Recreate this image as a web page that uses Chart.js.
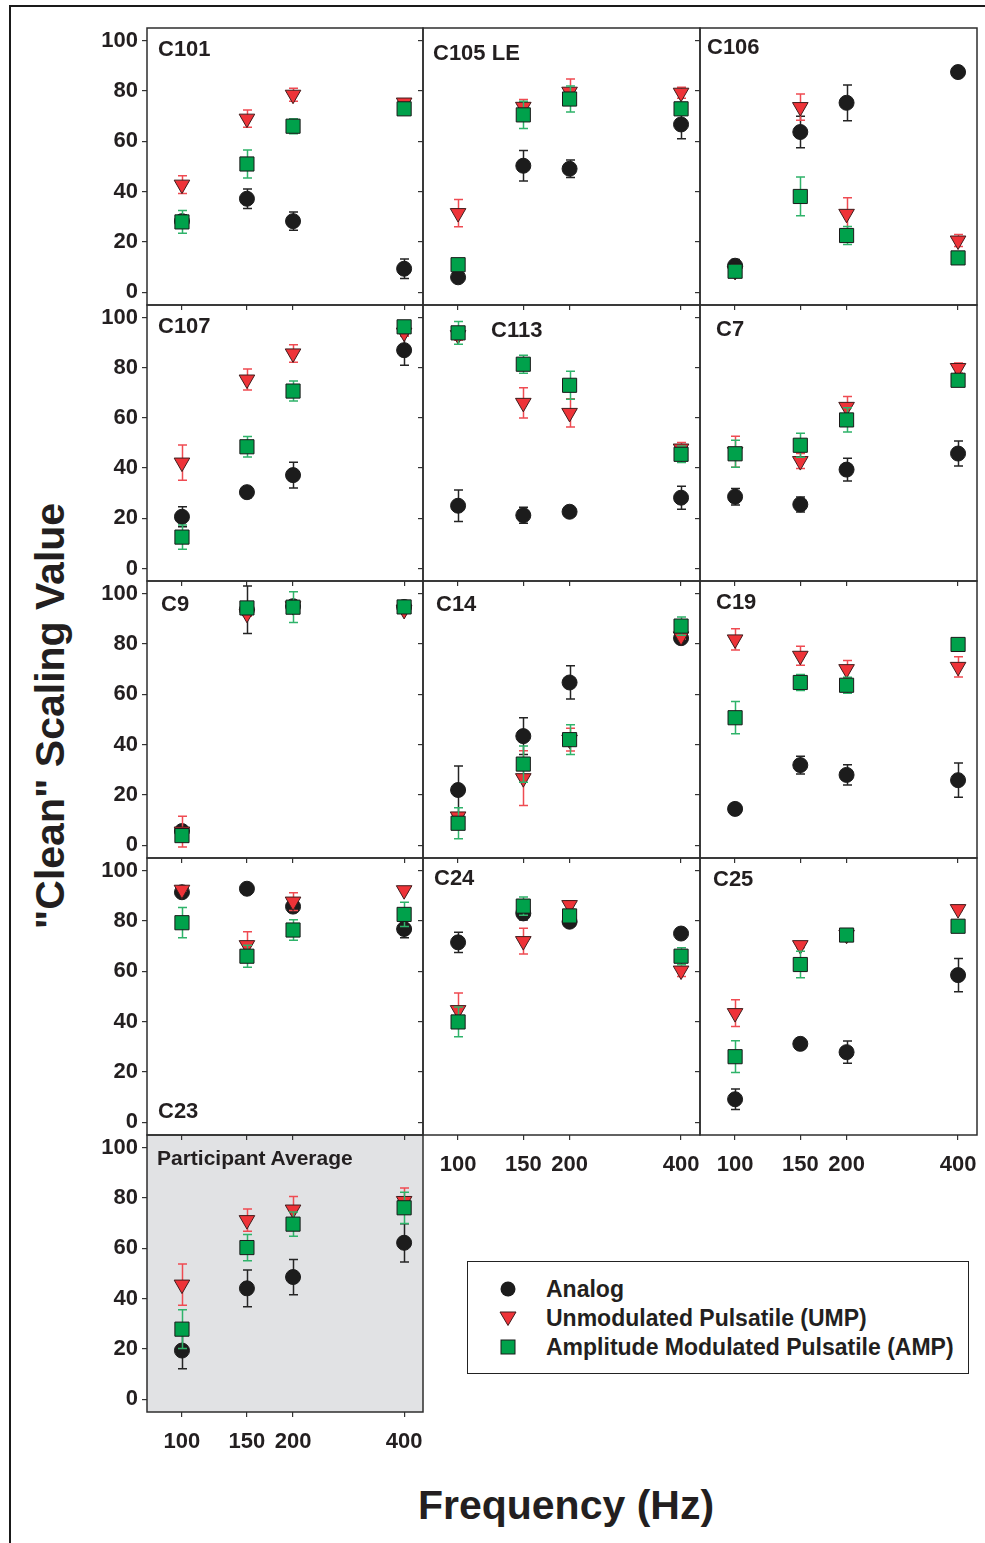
<!DOCTYPE html>
<html>
<head>
<meta charset="utf-8">
<title>"Clean" scaling value by stimulation frequency</title>
<script src="https://cdn.jsdelivr.net/npm/chart.js@4.4.1/dist/chart.umd.min.js"></script>
<style>
  html, body { margin: 0; padding: 0; background: #fff; }
  body {
    position: relative; width: 985px; height: 1543px; overflow: hidden;
    font-family: "Liberation Sans", Arial, Helvetica, sans-serif; color: #231f20;
  }
  #frame {
    position: absolute; left: 9px; top: 5px; right: 0; bottom: 0;
    border-left: 2px solid #1a1a1a; border-top: 2px solid #1a1a1a;
  }
  .panel { position: absolute; }
  .tag {
    position: absolute; z-index: 5; white-space: nowrap;
    font-weight: bold; font-size: 22px; line-height: 22px;
  }
  #ytitle {
    position: absolute; left: 50px; top: 716px; white-space: nowrap;
    font-weight: bold; font-size: 41px; line-height: 41px;
    transform: translate(-50%, -50%) rotate(-90deg);
  }
  #xtitle {
    position: absolute; left: 566px; top: 1485px; white-space: nowrap;
    font-weight: bold; font-size: 41px; line-height: 41px;
    transform: translateX(-50%);
  }
  #legend {
    position: absolute; left: 467px; top: 1261px; width: 502px; height: 113px;
    border: 1.5px solid #222; box-sizing: border-box; background: #fff; z-index: 6;
  }
  .item { position: absolute; left: 0; right: 0; height: 26px; }
  .item svg { position: absolute; left: 30px; top: 4px; }
  .item span {
    position: absolute; left: 78px; top: 0; line-height: 26px;
    font-weight: bold; font-size: 23px; white-space: nowrap;
  }
</style>
</head>
<body>
<div id="frame"></div>
<div id="ytitle">"Clean" Scaling Value</div>
<div id="xtitle">Frequency (Hz)</div>
<div id="legend"></div>

<script>
const FREQS = [100, 150, 200, 400];
const Y_TICKS = [0, 20, 40, 60, 80, 100];
const SERIES = ['Analog', 'Unmodulated Pulsatile (UMP)', 'Amplitude Modulated Pulsatile (AMP)'];

// mean scaling value per frequency, rows in SERIES order; *_ERR = error bar half-length
const C101 = [[28.3, 37.2, 28.3, 9.4], [42.8, 69.0, 78.5, 75.4], [28.0, 51.0, 66.0, 72.9]];
const C101_ERR = [[2.5, 3.9, 3.6, 3.9], [3.5, 3.4, 2.6, 0.8], [4.5, 5.6, 3.0, 1.5]];

const C105 = [[6.0, 50.3, 49.1, 66.7], [31.5, 73.7, 79.7, 79.3], [11.0, 70.5, 76.8, 72.9]];
const C105_ERR = [[0.5, 6.1, 3.5, 5.7], [5.4, 2.9, 5.0, 2.2], [0, 5.4, 5.2, 2.5]];

const C106 = [[10.6, 63.7, 75.3, 87.5], [8.5, 73.6, 31.2, 20.6], [8.4, 38.1, 22.6, 13.7]];
const C106_ERR = [[2.5, 6.3, 7.1, 0], [2.5, 5.2, 6.4, 2.4], [1.5, 7.7, 3.6, 0]];

const C107 = [[20.6, 30.4, 37.2, 87.0], [42.2, 75.3, 85.7, 94.0], [12.5, 48.5, 70.7, 96.3]];
const C107_ERR = [[4.0, 2.2, 5.1, 6.0], [7.0, 4.2, 3.5, 1.5], [4.8, 4.1, 4.0, 1.0]];

const C113 = [[25.0, 21.2, 22.6, 28.2], [93.0, 66.0, 62.0, 47.8], [93.9, 81.4, 73.0, 45.5]];
const C113_ERR = [[6.3, 3.2, 0, 4.6], [2.0, 6.0, 5.6, 2.4], [4.5, 3.6, 5.6, 3.3]];

const C7 = [[28.6, 25.5, 39.4, 45.8], [46.5, 42.8, 64.4, 79.9], [45.7, 49.1, 59.2, 75.0]];
const C7_ERR = [[3.3, 3.0, 4.5, 5.0], [6.2, 3.0, 4.1, 2.0], [5.4, 4.8, 4.8, 0]];

const C9 = [[5.7, 93.6, 95.0, 94.7], [5.5, 92.0, 95.0, 93.5], [3.9, 94.3, 94.6, 94.7]];
const C9_ERR = [[1.0, 9.4, 1.0, 1.0], [6.1, 1.0, 1.0, 1.0], [0.5, 0.5, 6.1, 0.5]];

const C14 = [[22.0, 43.4, 64.7, 82.3], [11.5, 26.7, 42.0, 83.0], [8.8, 32.3, 42.0, 87.1]];
const C14_ERR = [[9.5, 7.3, 6.6, 1.0], [1.5, 10.9, 4.5, 1.0], [6.2, 7.2, 5.9, 3.6]];

const C19 = [[14.5, 31.9, 28.0, 25.9], [81.8, 75.3, 70.0, 70.9], [50.7, 64.7, 63.6, 79.8]];
const C19_ERR = [[0, 3.5, 4.0, 6.8], [4.2, 3.8, 3.4, 4.0], [6.4, 3.2, 3.2, 0]];

const C23 = [[91.4, 92.8, 85.7, 76.8], [92.4, 70.4, 87.7, 92.2], [79.3, 66.0, 76.4, 82.6]];
const C23_ERR = [[0.5, 0, 1.5, 3.5], [0.5, 5.3, 3.5, 0.5], [6.0, 4.4, 4.1, 4.8]];

const C24 = [[71.5, 83.0, 79.7, 75.0], [44.6, 72.0, 86.3, 60.3], [39.9, 85.9, 82.0, 66.0]];
const C24_ERR = [[4.0, 2.6, 1.0, 0.5], [6.8, 5.1, 1.7, 2.4], [5.9, 3.6, 2.0, 3.4]];

const C25 = [[9.2, 31.2, 27.9, 58.5], [43.4, 70.4, 74.5, 84.7], [26.1, 62.7, 74.4, 77.9]];
const C25_ERR = [[4.1, 0, 4.4, 6.6], [5.3, 1.0, 0.5, 0.5], [6.3, 5.3, 0.5, 0]];

const AVG = [[19.4, 44.1, 48.6, 62.2], [45.6, 71.2, 75.4, 78.8], [27.9, 60.3, 69.6, 76.1]];
const AVG_ERR = [[7.2, 7.3, 7.0, 7.6], [8.2, 4.4, 5.2, 5.2], [7.7, 5.2, 4.8, 6.2]];

// ---- layout ----
const FONT = "'Liberation Sans', Arial, sans-serif";
const INK = '#231f20';
const COL_X = [147, 423, 700, 977];
const ROW_Y = [28, 305, 581, 858, 1135, 1412];
const CAP = 4.5;
const PAD = 30;   // spare room round each plot so tick labels never squeeze it

// marker look per series (lower order is drawn on top)
const MARKS = [
    { style: 'circle',   radius: 7.5, rotation: 0,   fill: '#1c1c1c', edge: '#1c1c1c', bar: '#242424', order: 2 },
    { style: 'triangle', radius: 9,   rotation: 180, fill: '#ee3338', edge: '#401c1c', bar: '#ef4b52', order: 1 },
    { style: 'rect',     radius: 10,  rotation: 0,   fill: '#00a14b', edge: '#1a1a1a', bar: '#2fb36a', order: 0 }
];

// tag = label offset from the panel's top-left corner (x, baseline)
const PANELS = [
    { name: 'Participant Average', mean: AVG, err: AVG_ERR, col: 0, row: 4, tag: [10, 31], xLabels: true, fill: '#e1e2e4' },
    { name: 'C101',    mean: C101, err: C101_ERR, col: 0, row: 0, tag: [11, 29] },
    { name: 'C105 LE', mean: C105, err: C105_ERR, col: 1, row: 0, tag: [10, 33] },
    { name: 'C106',    mean: C106, err: C106_ERR, col: 2, row: 0, tag: [7, 27] },
    { name: 'C107',    mean: C107, err: C107_ERR, col: 0, row: 1, tag: [11, 29] },
    { name: 'C113',    mean: C113, err: C113_ERR, col: 1, row: 1, tag: [68, 33] },
    { name: 'C7',      mean: C7,   err: C7_ERR,   col: 2, row: 1, tag: [16, 32] },
    { name: 'C9',      mean: C9,   err: C9_ERR,   col: 0, row: 2, tag: [14, 31] },
    { name: 'C14',     mean: C14,  err: C14_ERR,  col: 1, row: 2, tag: [13, 31] },
    { name: 'C19',     mean: C19,  err: C19_ERR,  col: 2, row: 2, tag: [16, 29] },
    { name: 'C23',     mean: C23,  err: C23_ERR,  col: 0, row: 3, tag: [11, 261] },
    { name: 'C24',     mean: C24,  err: C24_ERR,  col: 1, row: 3, tag: [11, 28], xLabels: true },
    { name: 'C25',     mean: C25,  err: C25_ERR,  col: 2, row: 3, tag: [13, 29], xLabels: true }
];

// vertical error bars, drawn just under each dataset's markers
const errorBars = {
    id: 'errorBars',
    beforeDatasetDraw(chart, args) {
        const ds = chart.data.datasets[args.index];
        const { x, y } = chart.scales;
        const ctx = chart.ctx;
        ctx.save();
        ctx.strokeStyle = ds.barColor;
        ctx.lineWidth = 1.5;
        ds.data.forEach((pt, i) => {
            const e = ds.errors[i];
            if (!e) return;
            const px = Math.round(x.getPixelForValue(pt.x)) + 0.5;
            const top = y.getPixelForValue(pt.y + e);
            const bot = y.getPixelForValue(pt.y - e);
            ctx.beginPath();
            ctx.moveTo(px, top); ctx.lineTo(px, bot);
            ctx.moveTo(px - CAP, top); ctx.lineTo(px + CAP, top);
            ctx.moveTo(px - CAP, bot); ctx.lineTo(px + CAP, bot);
            ctx.stroke();
        });
        ctx.restore();
    }
};

// panel background and box
const panelFrame = {
    id: 'panelFrame',
    beforeDatasetsDraw(chart, args, opts) {
        const a = chart.chartArea, ctx = chart.ctx;
        if (opts.fill) {
            ctx.save();
            ctx.fillStyle = opts.fill;
            ctx.fillRect(a.left, a.top, a.width, a.height);
            ctx.restore();
        }
    },
    afterDraw(chart) {
        const a = chart.chartArea, ctx = chart.ctx;
        ctx.save();
        ctx.strokeStyle = '#2e2e2e';
        ctx.lineWidth = 1.5;
        ctx.strokeRect(a.left, a.top, a.width, a.height);
        ctx.restore();
    }
};

function addPanel(p) {
    const x0 = COL_X[p.col], x1 = COL_X[p.col + 1];
    const y0 = ROW_Y[p.row], y1 = ROW_Y[p.row + 1];
    const yLabels = p.col === 0;
    const axisW = yLabels ? 70 : 4;
    const axisH = p.xLabels ? 56 : 5;
    const w = (x1 - x0) + axisW + 2 * PAD;
    const h = (y1 - y0) + axisH + 2 * PAD;

    const canvas = document.createElement('canvas');
    canvas.className = 'panel';
    canvas.width = w;
    canvas.height = h;
    canvas.style.left = (x0 - axisW - PAD) + 'px';
    canvas.style.top = (y0 - PAD) + 'px';
    canvas.style.width = w + 'px';
    canvas.style.height = h + 'px';
    document.body.appendChild(canvas);

    const tag = document.createElement('div');
    tag.className = 'tag';
    tag.textContent = p.name;
    if (p.fill) tag.style.fontSize = '21px';
    tag.style.left = (x0 + p.tag[0]) + 'px';
    tag.style.top = (y0 + p.tag[1] - 19) + 'px';
    document.body.appendChild(tag);

    const datasets = SERIES.map((label, s) => ({
        label,
        data: FREQS.map((f, i) => ({ x: f, y: p.mean[s][i] })),
        errors: p.err[s],
        barColor: MARKS[s].bar,
        order: MARKS[s].order,
        pointStyle: MARKS[s].style,
        pointRadius: MARKS[s].radius,
        pointRotation: MARKS[s].rotation,
        pointBackgroundColor: MARKS[s].fill,
        pointBorderColor: MARKS[s].edge,
        pointBorderWidth: 1,
        clip: false
    }));

    const tickFont = { family: FONT, size: 22, weight: 'bold' };
    const grid = { display: true, drawOnChartArea: false, drawTicks: true, tickLength: 5, color: '#333', lineWidth: 1.2 };

    new Chart(canvas, {
        type: 'scatter',
        data: { datasets },
        plugins: [errorBars, panelFrame],
        options: {
            responsive: false,
            animation: false,
            devicePixelRatio: 1,
            events: [],
            layout: { padding: PAD },
            plugins: {
                legend: { display: false },
                tooltip: { enabled: false },
                panelFrame: { fill: p.fill || null }
            },
            scales: {
                x: {
                    type: 'logarithmic',
                    min: 80.4,
                    max: 450,
                    afterBuildTicks: s => { s.ticks = FREQS.map(v => ({ value: v })); },
                    afterFit: s => { s.height = axisH; },
                    grid,
                    border: { display: false },
                    ticks: {
                        display: !!p.xLabels, font: tickFont, color: INK, padding: 12,
                        maxRotation: 0, autoSkip: false, callback: v => String(v)
                    }
                },
                y: {
                    min: -5,
                    max: 105,
                    afterBuildTicks: s => { s.ticks = Y_TICKS.map(v => ({ value: v })); },
                    afterFit: s => { s.width = axisW; },
                    grid,
                    border: { display: false },
                    ticks: {
                        display: yLabels, font: tickFont, color: INK, padding: 4,
                        callback: v => String(v)
                    }
                }
            }
        }
    });
}

PANELS.forEach(addPanel);

// legend, built from the same series list and marker styles
function markerSvg(m) {
    if (m.style === 'circle') {
        return `<svg width="20" height="18"><circle cx="10" cy="9" r="7.5" fill="${m.fill}"/></svg>`;
    }
    if (m.style === 'triangle') {
        return `<svg width="20" height="18"><polygon points="2,3 18,3 10,16.5" fill="${m.fill}" stroke="${m.edge}" stroke-width="1"/></svg>`;
    }
    return `<svg width="20" height="18"><rect x="3" y="2" width="14" height="14" fill="${m.fill}" stroke="${m.edge}" stroke-width="1"/></svg>`;
}

const legend = document.getElementById('legend');
SERIES.forEach((label, s) => {
    const item = document.createElement('div');
    item.className = 'item';
    item.style.top = (14 + s * 29) + 'px';
    item.innerHTML = markerSvg(MARKS[s]) + `<span>${label}</span>`;
    legend.appendChild(item);
});
</script>
</body>
</html>
